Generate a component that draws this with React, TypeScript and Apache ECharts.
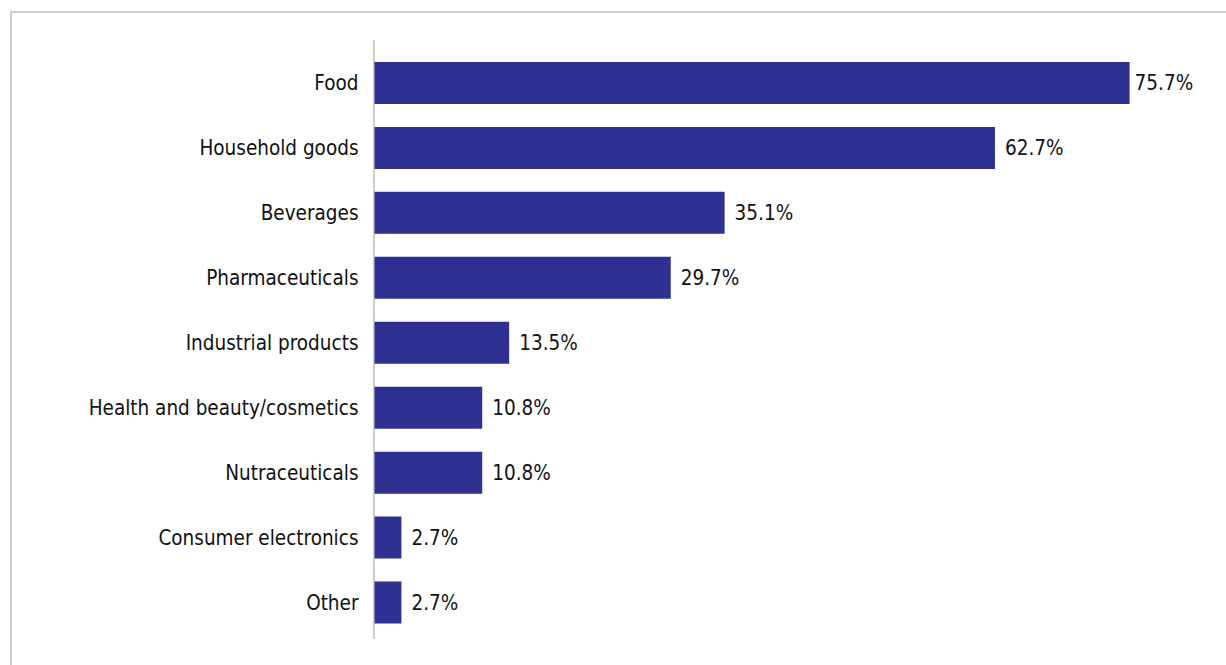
import React, { useEffect, useRef } from "react";
import * as echarts from "echarts";

const categories = [
  "Food",
  "Household goods",
  "Beverages",
  "Pharmaceuticals",
  "Industrial products",
  "Health and beauty/cosmetics",
  "Nutraceuticals",
  "Consumer electronics",
  "Other",
];
// bar lengths as drawn in the reference
const values = [75.7, 62.2, 35.1, 29.7, 13.5, 10.8, 10.8, 2.7, 2.7];
// value labels as printed in the reference
const valueLabels = ["75.7%", "62.7%", "35.1%", "29.7%", "13.5%", "10.8%", "10.8%", "2.7%", "2.7%"];

const FONT = "'Liberation Sans Narrow', 'DejaVu Sans Condensed', 'Roboto Condensed', 'Noto Sans', sans-serif";

export default function App() {
  const ref = useRef<HTMLDivElement>(null);
  useEffect(() => {
    if (!ref.current) return;
    const chart = echarts.init(ref.current, null, { renderer: "svg" });
    chart.setOption({
      animation: false,
      grid: { left: 374.5, top: 50.5, width: 798, height: 584.5, containLabel: false },
      xAxis: {
        type: "value",
        min: 0,
        max: 80,
        show: false,
      },
      yAxis: {
        type: "category",
        data: categories,
        inverse: true,
        axisLine: { show: false },
        axisTick: { show: false },
        axisLabel: {
          margin: 16,
          fontFamily: FONT,
          fontSize: 20.5,
          color: "#111",
        },
      },
      graphic: [
        {
          type: "line",
          shape: { x1: 374, y1: 40, x2: 374, y2: 639 },
          style: { stroke: "#bdbdbd", lineWidth: 1.5 },
          silent: true,
        },
      ],
      series: [
        {
          type: "bar",
          data: values.map((v, i) =>
            i === 0 ? { value: v, label: { distance: 5 } } : { value: v }
          ),
          barWidth: 42,
          itemStyle: { color: "#2e3192" },
          label: {
            show: true,
            position: "right",
            distance: 10,
            fontFamily: FONT,
            fontSize: 20.5,
            color: "#111",
            formatter: (p: any) => valueLabels[p.dataIndex],
          },
        },
      ],
    });
    return () => chart.dispose();
  }, []);
  return (
    <div style={{ position: "fixed", left: 0, top: 0, width: 1226, height: 665, background: "#fff", overflow: "hidden" }}>
      <div
        style={{
          position: "absolute",
          left: 10,
          top: 11,
          width: 1240,
          height: 700,
          border: "2px solid #cccccc",
          boxSizing: "border-box",
        }}
      />
      <div ref={ref} style={{ position: "absolute", left: 0, top: 0, width: 1226, height: 665 }} />
    </div>
  );
}
